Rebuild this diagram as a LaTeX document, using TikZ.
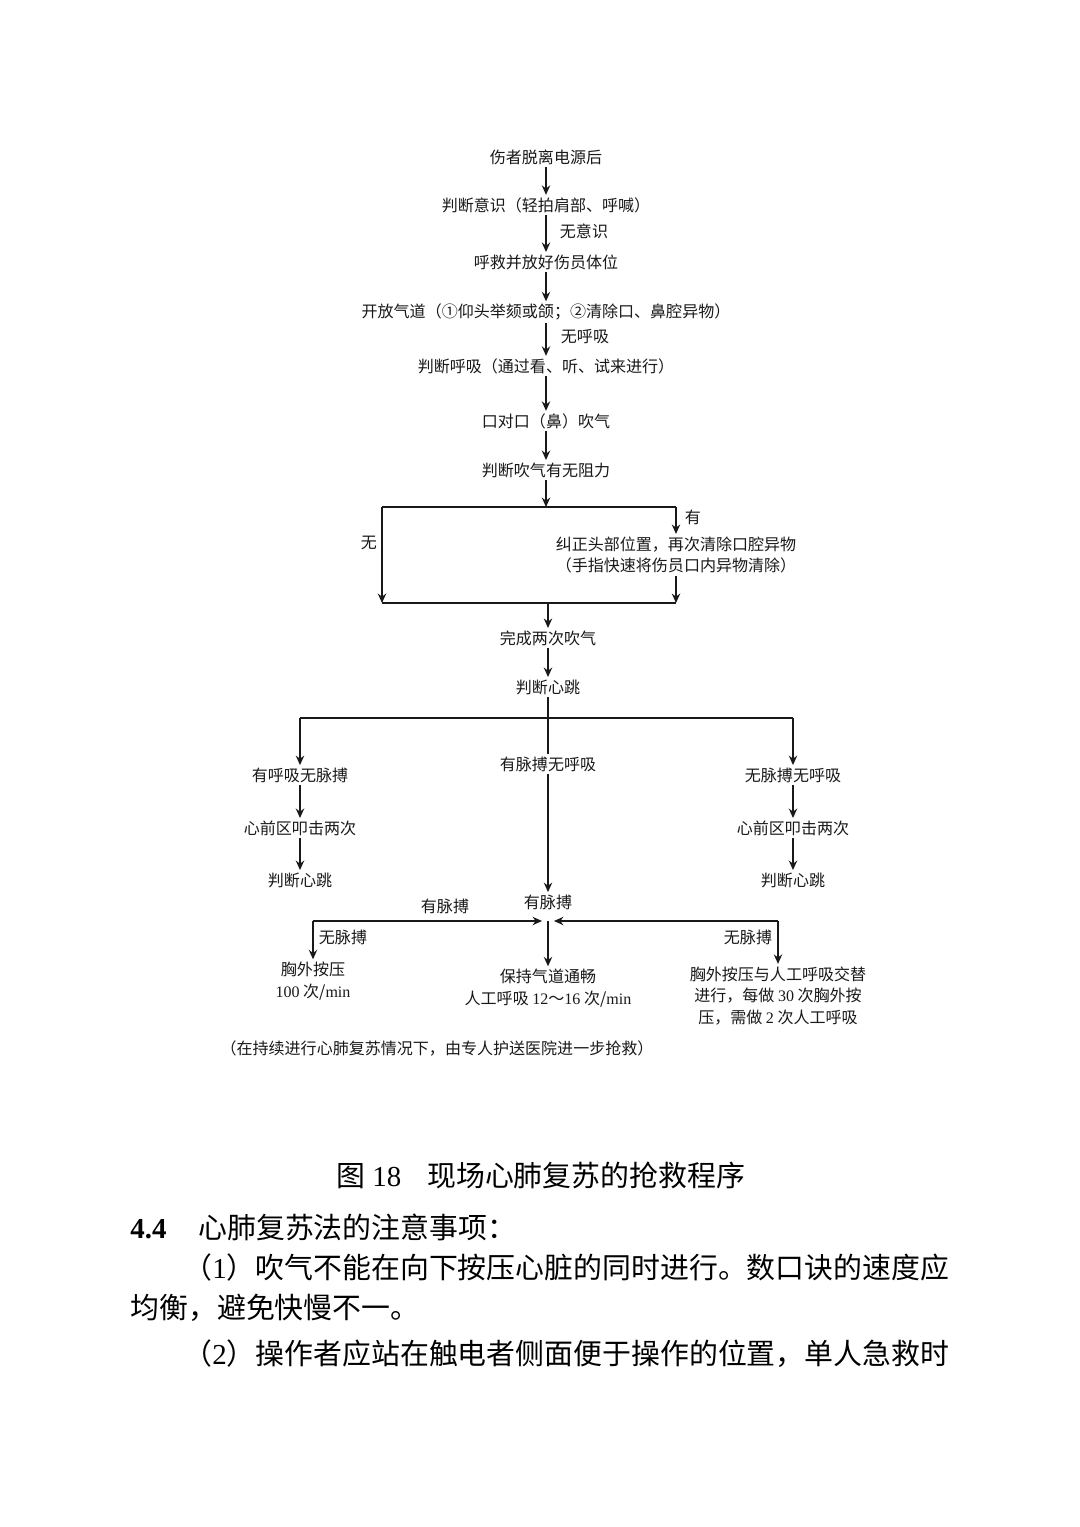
\documentclass[tikz,border=0pt]{standalone}
\usepackage{fontspec}
\setmainfont{Liberation Serif}
\newfontfamily\hei{Noto Sans CJK SC}
\usetikzlibrary{arrows.meta}
\definecolor{inkgray}{RGB}{25,25,25}
\newcommand{\lat}[1]{{\rmfamily #1}}

\begin{document}
\begin{tikzpicture}[x=0.016667cm, y=-0.016667cm, >={Stealth[length=4.5pt,width=4pt,inset=1.5pt]},
  flow/.style={inkgray, font=\hei\fontsize{7.6}{10.4}\selectfont, inner sep=1pt, align=center},
  lbl/.style={inkgray, font=\hei\fontsize{7.6}{9}\selectfont, inner sep=1pt},
  link/.style={inkgray, line width=0.6pt},
  body/.style={font=\hei\fontsize{13.7}{16}\selectfont, inner sep=0pt}]

  % page frame
  \fill[white] (0,0) rectangle (1080,1527);
  \useasboundingbox (0,0) rectangle (1080,1527);

  % Main spine
  \node[flow] (start)  at (546,157) {伤者脱离电源后};
  \node[flow] (consc)  at (546,205) {判断意识（轻拍肩部、呼喊）};
  \node[flow] (call)   at (546,262) {呼救并放好伤员体位};
  \node[flow] (airway) at (546,312) {开放气道（①仰头举颏或颌；②清除口、鼻腔异物）};
  \node[flow] (breath) at (546,366) {判断呼吸（通过看、听、试来进行）};
  \node[flow] (mouth)  at (546,421) {口对口（鼻）吹气};
  \node[flow] (resist) at (546,470) {判断吹气有无阻力};

  \draw[link, ->] (start) -- (consc);
  \draw[link, ->] (consc) -- (call);
  \node[lbl] at (584,231) {无意识};
  \draw[link, ->] (call) -- (airway);
  \draw[link, ->] (airway) -- (breath);
  \node[lbl] at (585,337) {无呼吸};
  \draw[link, ->] (breath) -- (mouth);
  \draw[link, ->] (mouth) -- (resist);

  % Resistance check loop
  \coordinate (tl) at (382,507);
  \coordinate (tr) at (676,507);
  \coordinate (bl) at (382,603);
  \coordinate (br) at (676,603);
  \coordinate (bm) at (548,603);
  \node[flow] (fix) at (676,555) {纠正头部位置，再次清除口腔异物\\（手指快速将伤员口内异物清除）};
  \draw[link, ->] (resist) -- (resist |- tl);
  \draw[link] (tl) -- (tr);
  \draw[link, ->] (tl) -- (bl);
  \node[lbl] at (369,543) {无};
  \draw[link, ->] (tr) -- (fix.north -| tr);
  \node[lbl] at (693,517) {有};
  \draw[link, ->] (fix.south -| br) -- (br);
  \draw[link] (bl) -- (br);

  \node[flow] (blow2) at (548,638) {完成两次吹气};
  \node[flow] (heart) at (548,687) {判断心跳};
  \draw[link, ->] (bm) -- (blow2);
  \draw[link, ->] (blow2) -- (heart);

  % Heartbeat branches
  \coordinate (hl) at (300,718);
  \coordinate (hr) at (793,718);
  \node[flow] (lbr) at (300,775) {有呼吸无脉搏};
  \node[flow] (mid) at (548,764) {有脉搏无呼吸};
  \node[flow] (rbr) at (793,775) {无脉搏无呼吸};
  \draw[link] (heart) -- (mid);
  \draw[link] (hl) -- (hr);
  \draw[link, ->] (hl) -- (lbr);
  \draw[link, ->] (hr) -- (rbr);

  \node[flow] (ltap)   at (300,828) {心前区叩击两次};
  \node[flow] (lheart) at (300,880) {判断心跳};
  \node[flow] (rtap)   at (793,828) {心前区叩击两次};
  \node[flow] (rheart) at (793,880) {判断心跳};
  \draw[link, ->] (lbr) -- (ltap);
  \draw[link, ->] (ltap) -- (lheart);
  \draw[link, ->] (rbr) -- (rtap);
  \draw[link, ->] (rtap) -- (rheart);

  \node[flow] (pulse) at (548,902) {有脉搏};
  \draw[link, ->] (mid) -- (pulse);

  % Final actions
  \coordinate (ql)  at (313,921);
  \coordinate (qr)  at (778,921);
  \coordinate (qm)  at (548,921);
  \coordinate (qml) at (542,921);
  \coordinate (qmr) at (554,921);
  \draw[link, ->] (ql) -- (qml);
  \node[lbl] at (445,906) {有脉搏};
  \draw[link, ->] (qr) -- (qmr);

  \node[flow] (press) at (313,981) {胸外按压\\\lat{100} 次/\lat{min}};
  \node[flow] (keep)  at (548,988) {保持气道通畅\\人工呼吸 \lat{12}～\lat{16} 次/\lat{min}};
  \node[flow] (alt)   at (778,996) {胸外按压与人工呼吸交替\\进行，每做 \lat{30} 次胸外按\\压，需做 \lat{2} 次人工呼吸};
  \draw[link, ->] (ql) -- (press);
  \node[lbl] at (343,937) {无脉搏};
  \draw[link, ->] (qm) -- (keep);
  \draw[link, ->] (qr) -- (alt.north -| qr);
  \node[lbl] at (748,937) {无脉搏};

  \node[flow] (note) at (437,1048) {（在持续进行心肺复苏情况下，由专人护送医院进一步抢救）};

  % Caption and running text
  \node[body] (caption) at (541,1175) {图 \lat{18}\hspace{0.9em}现场心肺复苏的抢救程序};
  \node[body, anchor=west] (sec) at (130,1227) {\lat{\textbf{4.4}}\hspace{1.1em}心肺复苏法的注意事项：};
  \node[body, anchor=west] (line1) at (183,1268) {（\lat{1}）吹气不能在向下按压心脏的同时进行。数口诀的速度应};
  \node[body, anchor=west] (line2) at (130,1308) {均衡，避免快慢不一。};
  \node[body, anchor=west] (line3) at (183,1354) {（\lat{2}）操作者应站在触电者侧面便于操作的位置，单人急救时};

\end{tikzpicture}
\end{document}
